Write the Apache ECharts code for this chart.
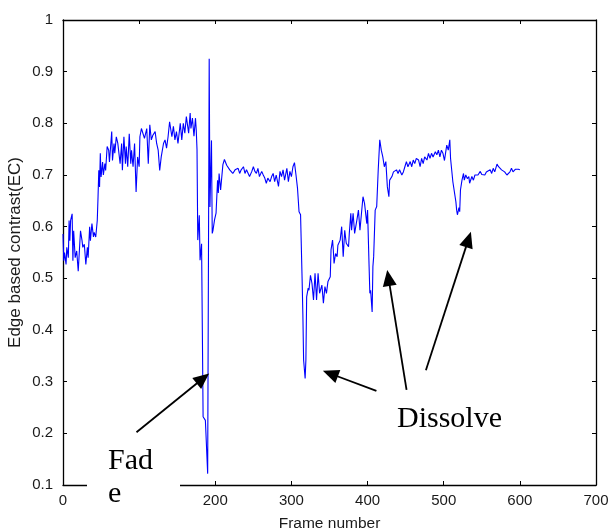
<!DOCTYPE html>
<html>
<head>
<meta charset="utf-8">
<script src="https://cdn.jsdelivr.net/npm/echarts@6/dist/echarts.min.js"></script>
<style>
html,body{margin:0;padding:0;background:#fff;}
#chart{width:609px;height:532px;}
</style>
</head>
<body>
<div id="chart"></div>
<script>
// ---- data ----
const frames = [
0,1,2,4,5,7,8,9,10,12,13,14,16,18,20,22,23,25,26,28,30,32,33,35,36,38,40,41,43,45,46,47,48,49,50,52,53,55,56,58,60,61,64,65,67,68,70,72,75,77,78,80,82,83,85,87,89,90,92,94,96,98,100,101,103,105,107,110,112,114,116,118,121,123,125,127,129,132,134,136,138,140,143,145,147,149,151,154,156,158,160,162,165,167,168,170,172,174,175,176,177,179,180,182,183,184,187,190,192,193,195,196,197,199,201,203,204,205,207,210,212,
215,217,219,221,223,226,228,230,232,234,237,239,241,243,245,248,250,252,254,256,258,261,263,265,267,269,272,274,276,278,280,283,285,287,289,291,294,296,298,300,302,304,
306,308,310,312,314,315,316,318,319,320,322,323,325,327,329,331,333,335,337,340,342,344,346,348,351,352,354,355,356,358,360,361,364,366,368,370,372,375,376,378,379,381,383,386,388,390,392,394,396,399,400,402,403,404,406,407,408,410,412,414,416,418,420,422,424,426,428,429,432,434,436,438,440,442,445,447,449,451,453,456,458,460,462,464,467,469,471,473,475,478,480,482,484,486,489,491,493,495,497,499,501,503,504,506,508,509,511,512,514,516,517,518,520,521,522,524,526,527,529,531,533,534,537,539,541,543,545,548,550,552,554,556,558,561,563,565,567,570,572,574,576,578,580,583,585,587,589,591,594,596,598,600
];
const ecValues = [
.586,.534,.55,.527,.56,.54,.612,.573,.612,.625,.534,.592,.54,.553,.514,.566,.592,.573,.56,.566,.527,.56,.54,.6,.573,.606,.58,.589,.58,.612,.657,.709,.677,.742,.696,.725,.7,.722,.709,.755,.748,.725,.784,.728,.761,.742,.774,.761,.722,.761,.709,.774,.722,.755,.716,.78,.722,.748,.716,.761,.667,.735,.716,.774,.79,.787,.771,.79,.722,.797,.768,.777,.784,.761,.748,.709,.735,.761,.768,.752,.774,.803,.774,.794,.768,.784,.761,.8,.768,.8,.781,.813,.781,.82,.79,.81,.775,.81,.787,.75,.574,.622,.535,.567,.40,.232,.225,.122,.925,.638,.767,.587,.593,.613,.626,.69,.665,.703,.671,.72,.73,
.719,.716,.71,.713,.703,.71,.707,.713,.703,.71,.716,.703,.71,.713,.697,.707,.716,.707,.703,.713,.697,.707,.70,.694,.684,.694,.687,.697,.703,.687,.70,.678,.707,.697,.71,.69,.713,.687,.707,.697,.716,.724,
.70,.674,.629,.623,.50,.432,.342,.306,.342,.464,.481,.477,.506,.49,.458,.51,.458,.51,.471,.487,.452,.484,.471,.494,.503,.555,.574,.555,.529,.548,.542,.564,.574,.60,.542,.593,.568,.561,.587,.626,.593,.626,.587,.613,.632,.593,.626,.658,.645,.606,.632,.523,.471,.477,.435,.523,.542,.632,.639,.71,.768,.748,.735,.716,.726,.677,.658,.69,.697,.706,.703,.71,.703,.71,.70,.706,.716,.726,.716,.726,.716,.729,.722,.732,.729,.716,.732,.722,.735,.729,.742,.732,.742,.735,.745,.739,.748,.735,.748,.742,.728,.748,.758,.748,.768,.732,.732,.687,.684,.648,.632,.623,.637,.629,.671,.69,.703,.69,.70,.693,.697,.684,.697,.69,.70,.703,.70,.707,.701,.704,.70,.706,.703,.71,.703,.713,.706,.721,.716,.717,.71,.711,.706,.70,.703,.706,.713,.706,.711,.708,.711,.71
];
const xTicks = {min: 0, max: 700, step: 100};
const yTicks = {min: 0.1, max: 1, step: 0.1};
// annotation arrows: [tailFrame, tailValue, headFrame, headValue]
const arrows = [
  [96.5, 0.202, 191.9, 0.316],
  [411.6, 0.282, 341.3, 0.321],
  [451.2, 0.284, 425.8, 0.516],
  [476.6, 0.322, 535.7, 0.590]
];

const seriesData = frames.map((f, i) => [f, ecValues[i]]);

const chart = echarts.init(document.getElementById('chart'), null, {renderer: 'canvas'});
const labelFont = {fontFamily: 'Liberation Sans, Arial, sans-serif', fontSize: 15, color: '#1a1a1a'};
const axisLineStyle = {color: '#000', width: 1.3};

const option = {
  animation: false,
  backgroundColor: '#fff',
  grid: {left: 63, right: 13, top: 20, bottom: 47, containLabel: false, outerBoundsMode: 'none'},
  xAxis: [
    {
      type: 'value', position: 'bottom', min: xTicks.min, max: xTicks.max, interval: xTicks.step,
      name: 'Frame number', nameLocation: 'middle', nameGap: 31, nameMoveOverlap: false,
      nameTextStyle: {fontFamily: 'Liberation Sans, Arial, sans-serif', fontSize: 15.5, color: '#1a1a1a'},
      axisLine: {show: true, onZero: false, lineStyle: axisLineStyle},
      axisTick: {show: true, inside: true, length: 4, lineStyle: {color: '#000'}},
      axisLabel: Object.assign({margin: 8}, labelFont),
      splitLine: {show: false}
    },
    {
      type: 'value', position: 'top', min: xTicks.min, max: xTicks.max, interval: xTicks.step,
      axisLine: {show: true, onZero: false, lineStyle: axisLineStyle},
      axisTick: {show: true, inside: true, length: 4, lineStyle: {color: '#000'}},
      axisLabel: {show: false}, splitLine: {show: false}
    }
  ],
  yAxis: [
    {
      type: 'value', position: 'left', min: yTicks.min, max: yTicks.max, interval: yTicks.step,
      name: 'Edge based contrast(EC)', nameLocation: 'middle', nameGap: 39, nameMoveOverlap: false,
      nameTextStyle: {fontFamily: 'Liberation Sans, Arial, sans-serif', fontSize: 17, color: '#1a1a1a'},
      axisLine: {show: true, onZero: false, lineStyle: axisLineStyle},
      axisTick: {show: true, inside: true, length: 4, lineStyle: {color: '#000'}},
      axisLabel: Object.assign({margin: 10, formatter: v => String(+v.toFixed(1))}, labelFont),
      splitLine: {show: false}
    },
    {
      type: 'value', position: 'right', min: yTicks.min, max: yTicks.max, interval: yTicks.step,
      axisLine: {show: true, onZero: false, lineStyle: axisLineStyle},
      axisTick: {show: true, inside: true, length: 4, lineStyle: {color: '#000'}},
      axisLabel: {show: false}, splitLine: {show: false}
    }
  ],
  series: [{
    type: 'line', xAxisIndex: 0, yAxisIndex: 0,
    data: seriesData, showSymbol: false, symbol: 'none',
    lineStyle: {color: '#0000ff', width: 1.1},
    clip: false
  }]
};
chart.setOption(option);

// annotations
const graphics = [];
arrows.forEach(a => {
  const t = chart.convertToPixel({gridIndex: 0}, [a[0], a[1]]);
  const h = chart.convertToPixel({gridIndex: 0}, [a[2], a[3]]);
  const dx = h[0] - t[0], dy = h[1] - t[1];
  const len = Math.sqrt(dx * dx + dy * dy);
  const ux = dx / len, uy = dy / len;
  const hl = 16, hw = 7;
  const bx = h[0] - ux * hl, by = h[1] - uy * hl;
  graphics.push({
    type: 'line', z: 20,
    shape: {x1: t[0], y1: t[1], x2: bx + ux * 2, y2: by + uy * 2},
    style: {stroke: '#000', lineWidth: 1.8}
  });
  graphics.push({
    type: 'polygon', z: 20,
    shape: {points: [[h[0], h[1]], [bx - uy * hw, by + ux * hw], [bx + uy * hw, by - ux * hw]]},
    style: {fill: '#000'}
  });
});
graphics.push({type: 'rect', z: 15, shape: {x: 87, y: 440, width: 93, height: 80}, style: {fill: '#fff'}});
const serifFont = '30px "Liberation Serif", "Times New Roman", serif';
graphics.push({type: 'text', z: 25, style: {x: 108, y: 461, text: 'Fad', font: serifFont, fill: '#000', verticalAlign: 'middle'}});
graphics.push({type: 'text', z: 25, style: {x: 108, y: 494, text: 'e', font: serifFont, fill: '#000', verticalAlign: 'middle'}});
graphics.push({type: 'text', z: 25, style: {x: 397, y: 419, text: 'Dissolve', font: serifFont, fill: '#000', verticalAlign: 'middle'}});
chart.setOption({graphic: graphics});
</script>
</body>
</html>
